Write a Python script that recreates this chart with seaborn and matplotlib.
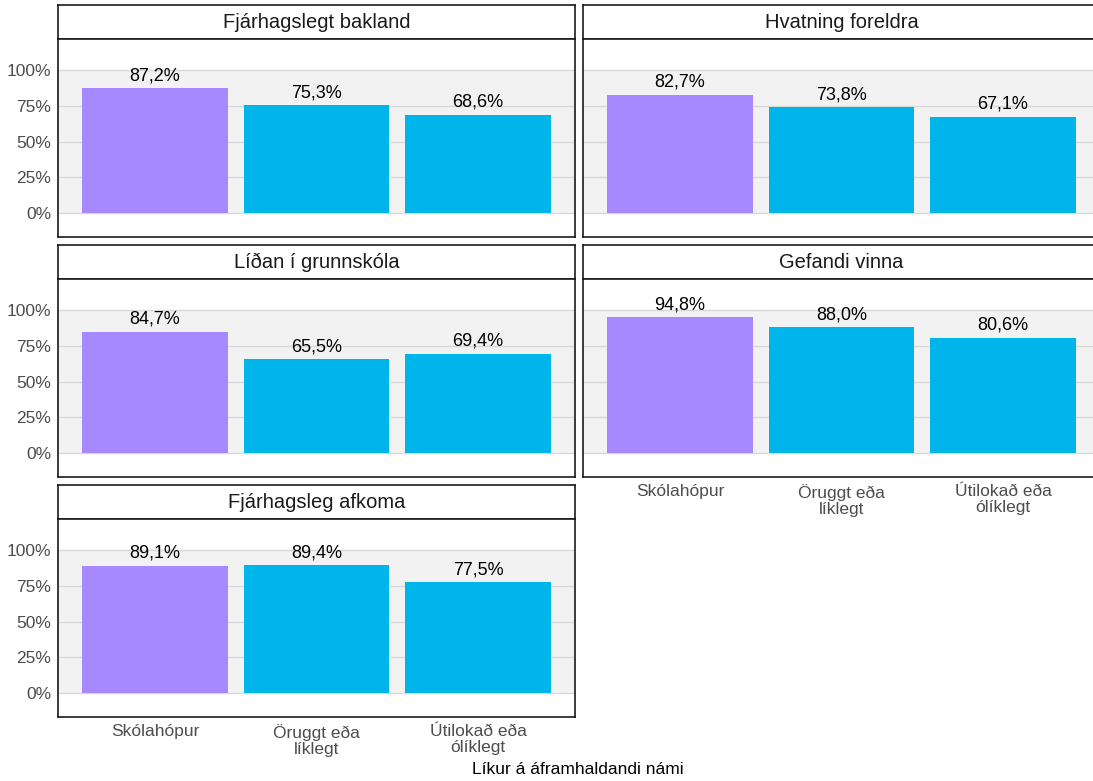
import numpy as np
import pandas as pd
import matplotlib
matplotlib.use("Agg")
import matplotlib.pyplot as plt
import seaborn as sns

# Gögn lesin af myndinni
flokkar = ["Skólahópur", "Öruggt eða\nlíklegt", "Útilokað eða\nólíklegt"]
titlar = ["Fjárhagslegt bakland", "Hvatning foreldra", "Líðan í grunnskóla",
          "Gefandi vinna", "Fjárhagsleg afkoma"]
bakland = [0.872, 0.753, 0.686]
hvatning = [0.827, 0.738, 0.671]
lidan = [0.847, 0.655, 0.694]
vinna = [0.948, 0.880, 0.806]
afkoma = [0.891, 0.894, 0.775]
y_ticks = [0, 0.25, 0.5, 0.75, 1.0]
y_labels = ["0%", "25%", "50%", "75%", "100%"]

gildi = [bakland, hvatning, lidan, vinna, afkoma]
litir = {flokkar[0]: "#A689FF", flokkar[1]: "#00B5E9", flokkar[2]: "#00B5E9"}

sns.set_style("white")
plt.rcParams['font.family'] = ['Liberation Sans', 'DejaVu Sans']

W, H = 1093, 781
fig = plt.figure(figsize=(W / 100, H / 100), dpi=100)

# hægri dálkur nær út fyrir myndina eins og í frumritinu
dalkar = [(58, 575), (583, 1100)]
radir = [(5, 39, 237), (245, 279, 477), (485, 519, 717)]


def box(x0, x1, y0, y1):
    return [x0 / W, 1 - y1 / H, (x1 - x0) / W, (y1 - y0) / H]


for i, (titill, v) in enumerate(zip(titlar, gildi)):
    r, c = divmod(i, 2)
    x0, x1 = dalkar[c]
    s0, s1, p1 = radir[r]

    # strip
    sax = fig.add_axes(box(x0, x1, s0, s1))
    sax.set_xticks([])
    sax.set_yticks([])
    for sp in sax.spines.values():
        sp.set_color("#1A1A1A")
        sp.set_linewidth(1.2)
    sax.text(0.5, 0.5, titill, ha="center", va="center", fontsize=14.5,
             color="#1A1A1A", transform=sax.transAxes)

    ax = fig.add_axes(box(x0, x1, s1, p1))
    df = pd.DataFrame({"flokkur": flokkar, "hlutfall": v})
    ax.axhspan(0, 1, color="#F2F2F2", zorder=0, lw=0)
    sns.barplot(data=df, x="flokkur", y="hlutfall", hue="flokkur", palette=litir,
                dodge=False, width=0.9, saturation=1, legend=False, ax=ax,
                zorder=2, linewidth=0)
    for cont in ax.containers:
        ax.bar_label(cont, labels=[f"{h.get_height() * 100:.1f}%".replace(".", ",")
                                   for h in cont], padding=3, fontsize=13,
                     color="black")
    ax.set_xlim(-0.6, 2.6)
    ax.set_ylim(-0.168, 1.217)
    ax.set_yticks(y_ticks)
    for yv in y_ticks:
        ax.axhline(yv, color="#D9D9D9", lw=1, zorder=1)
    ax.set_xlabel("")
    ax.set_ylabel("")
    ax.tick_params(length=0, labelsize=12.5, colors="#4D4D4D", pad=5)
    if c == 0:
        ax.set_yticklabels(y_labels)
    else:
        ax.set_yticklabels([])
    if (r == 2) or (r == 1 and c == 1):
        ax.set_xticks(range(3))
        ax.set_xticklabels(flokkar, linespacing=1.1)
    else:
        ax.set_xticklabels([])
    for sp in ax.spines.values():
        sp.set_color("#1A1A1A")
        sp.set_linewidth(1.2)

fig.text(578 / W, 1 - 770 / H, "Líkur á áframhaldandi námi", ha="center",
         va="center", fontsize=12.5, color="black")

fig.savefig("out.png", dpi=100)
